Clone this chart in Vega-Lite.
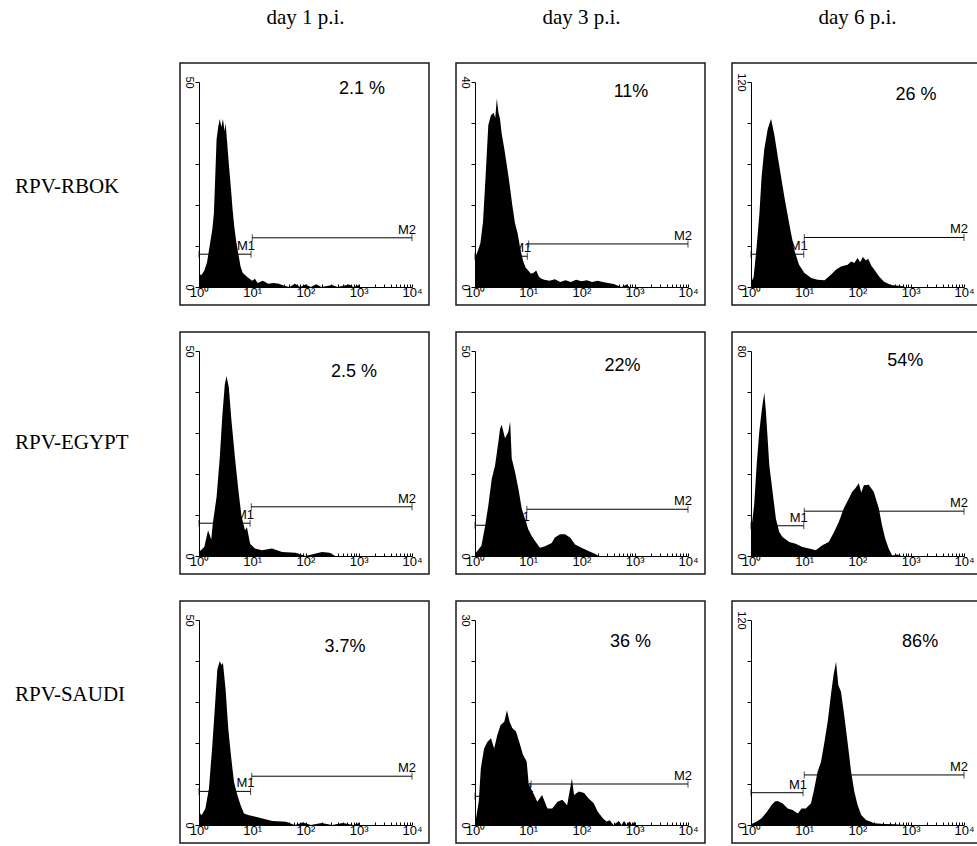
{
"$schema": "https://vega.github.io/schema/vega-lite/v6.json",
"padding": 0,
"background": "white",
"columns": 5,
"spacing": {"row": 27, "column": 25},
"align": "none",
"bounds": "flush",
"config": {
  "font": "Liberation Sans",
  "view": {"stroke": "#1a1a1a", "strokeWidth": 1.5},
  "axis": {"domainColor": "#000", "tickColor": "#000", "labelColor": "#000", "labelFont": "Liberation Sans", "grid": false, "domainWidth": 1, "tickWidth": 1}
},
"datasets": {
  "hist": [
    {"p":"A","x":1,"n":3},{"p":"A","x":1.122,"n":3},{"p":"A","x":1.259,"n":4},{"p":"A","x":1.413,"n":6},{"p":"A","x":1.585,"n":10},{"p":"A","x":1.778,"n":14},{"p":"A","x":1.905,"n":18},{"p":"A","x":1.995,"n":25},{"p":"A","x":2.138,"n":36},{"p":"A","x":2.291,"n":39},{"p":"A","x":2.455,"n":41},{"p":"A","x":2.63,"n":39},{"p":"A","x":2.818,"n":41},{"p":"A","x":3.02,"n":38},{"p":"A","x":3.162,"n":40},{"p":"A","x":3.388,"n":35},{"p":"A","x":3.631,"n":30},{"p":"A","x":3.981,"n":24},{"p":"A","x":4.266,"n":19},{"p":"A","x":4.571,"n":15},{"p":"A","x":5.012,"n":11},{"p":"A","x":5.495,"n":8},{"p":"A","x":6.026,"n":5},{"p":"A","x":6.607,"n":3.5},{"p":"A","x":7.244,"n":3},{"p":"A","x":7.943,"n":2.5},{"p":"A","x":8.913,"n":2},{"p":"A","x":10,"n":1.5},{"p":"A","x":11.22,"n":2},{"p":"A","x":12.59,"n":1},{"p":"A","x":15.85,"n":1.5},{"p":"A","x":19.95,"n":0.8},{"p":"A","x":25.12,"n":1},{"p":"A","x":31.62,"n":0.8},{"p":"A","x":39.81,"n":0.3},{"p":"A","x":50.12,"n":0},{"p":"A","x":63.1,"n":0.8},{"p":"A","x":79.43,"n":0},{"p":"A","x":100,"n":0.6},{"p":"A","x":125.9,"n":0},{"p":"A","x":158.5,"n":0.7},{"p":"A","x":199.5,"n":0},{"p":"A","x":316.2,"n":0.5},{"p":"A","x":398.1,"n":0},{"p":"A","x":660.7,"n":0.6},{"p":"A","x":794.3,"n":0},{"p":"A","x":1000,"n":0.5},{"p":"A","x":1047,"n":0},
    {"p":"B","x":1,"n":5.6},{"p":"B","x":1.122,"n":7},{"p":"B","x":1.259,"n":8.5},{"p":"B","x":1.413,"n":12.7},{"p":"B","x":1.585,"n":21.8},{"p":"B","x":1.778,"n":31.6},{"p":"B","x":1.995,"n":33.5},{"p":"B","x":2.239,"n":34},{"p":"B","x":2.399,"n":33},{"p":"B","x":2.57,"n":36.8},{"p":"B","x":2.754,"n":34},{"p":"B","x":2.951,"n":32.8},{"p":"B","x":3.162,"n":30},{"p":"B","x":3.548,"n":27},{"p":"B","x":3.981,"n":23.6},{"p":"B","x":4.467,"n":20},{"p":"B","x":5.012,"n":16},{"p":"B","x":5.623,"n":12.5},{"p":"B","x":6.31,"n":10.5},{"p":"B","x":7.079,"n":7.5},{"p":"B","x":7.943,"n":5.2},{"p":"B","x":8.913,"n":3.8},{"p":"B","x":10,"n":3.2},{"p":"B","x":11.22,"n":2.6},{"p":"B","x":12.59,"n":2.8},{"p":"B","x":14.13,"n":3.2},{"p":"B","x":15.85,"n":2},{"p":"B","x":17.78,"n":1.6},{"p":"B","x":19.95,"n":1.4},{"p":"B","x":25.12,"n":1.2},{"p":"B","x":31.62,"n":1.5},{"p":"B","x":39.81,"n":1},{"p":"B","x":50.12,"n":1.3},{"p":"B","x":63.1,"n":1},{"p":"B","x":79.43,"n":1.4},{"p":"B","x":100,"n":1.1},{"p":"B","x":125.9,"n":1.3},{"p":"B","x":158.5,"n":1},{"p":"B","x":199.5,"n":1.2},{"p":"B","x":251.2,"n":1},{"p":"B","x":316.2,"n":0.8},{"p":"B","x":398.1,"n":0.6},{"p":"B","x":501.2,"n":0.2},{"p":"B","x":562.3,"n":0},{"p":"B","x":707.9,"n":0.5},{"p":"B","x":794.3,"n":0},
    {"p":"C","x":1,"n":2.4},{"p":"C","x":1.122,"n":6},{"p":"C","x":1.259,"n":21.6},{"p":"C","x":1.432,"n":42},{"p":"C","x":1.585,"n":64.8},{"p":"C","x":1.778,"n":80.8},{"p":"C","x":2.056,"n":92.4},{"p":"C","x":2.239,"n":96},{"p":"C","x":2.377,"n":98.4},{"p":"C","x":2.512,"n":94.8},{"p":"C","x":2.754,"n":88.8},{"p":"C","x":3.162,"n":76.8},{"p":"C","x":3.656,"n":64.8},{"p":"C","x":4.227,"n":52.8},{"p":"C","x":4.887,"n":42},{"p":"C","x":5.623,"n":31.8},{"p":"C","x":6.516,"n":21.6},{"p":"C","x":7.943,"n":13.2},{"p":"C","x":10,"n":8.4},{"p":"C","x":13.49,"n":5.3},{"p":"C","x":17.78,"n":4.2},{"p":"C","x":23.99,"n":4},{"p":"C","x":31.62,"n":7.2},{"p":"C","x":39.81,"n":10.2},{"p":"C","x":48.98,"n":12},{"p":"C","x":65.31,"n":13},{"p":"C","x":75.86,"n":15},{"p":"C","x":87.1,"n":14},{"p":"C","x":100,"n":17},{"p":"C","x":112.2,"n":14.5},{"p":"C","x":125.9,"n":17.5},{"p":"C","x":144.5,"n":15.5},{"p":"C","x":158.5,"n":16.5},{"p":"C","x":182,"n":12.5},{"p":"C","x":208.9,"n":10},{"p":"C","x":257,"n":6},{"p":"C","x":316.2,"n":3.1},{"p":"C","x":426.6,"n":1.2},{"p":"C","x":660.7,"n":0.6},{"p":"C","x":794.3,"n":0},
    {"p":"D","x":1,"n":1},{"p":"D","x":1.259,"n":2.2},{"p":"D","x":1.479,"n":6.3},{"p":"D","x":1.698,"n":4},{"p":"D","x":1.82,"n":8},{"p":"D","x":2.138,"n":14.4},{"p":"D","x":2.455,"n":24},{"p":"D","x":2.754,"n":34.6},{"p":"D","x":3.055,"n":41.9},{"p":"D","x":3.289,"n":43.9},{"p":"D","x":3.631,"n":41.1},{"p":"D","x":4.074,"n":33},{"p":"D","x":4.732,"n":24},{"p":"D","x":5.495,"n":16},{"p":"D","x":6.31,"n":9.5},{"p":"D","x":7.311,"n":6.3},{"p":"D","x":7.943,"n":7},{"p":"D","x":9.12,"n":3},{"p":"D","x":11.22,"n":1.8},{"p":"D","x":15.14,"n":1.4},{"p":"D","x":23.44,"n":1.8},{"p":"D","x":36.31,"n":1},{"p":"D","x":64.57,"n":0.8},{"p":"D","x":100,"n":0},{"p":"D","x":204.2,"n":1},{"p":"D","x":281.8,"n":0.8},{"p":"D","x":363.1,"n":0},
    {"p":"E","x":1,"n":0.5},{"p":"E","x":1.318,"n":2.5},{"p":"E","x":1.549,"n":7.3},{"p":"E","x":1.778,"n":12.3},{"p":"E","x":2.061,"n":18.8},{"p":"E","x":2.377,"n":22},{"p":"E","x":2.754,"n":27.9},{"p":"E","x":2.951,"n":31},{"p":"E","x":3.162,"n":32},{"p":"E","x":3.664,"n":28.7},{"p":"E","x":4.236,"n":30.3},{"p":"E","x":4.571,"n":32.8},{"p":"E","x":4.898,"n":23.8},{"p":"E","x":5.649,"n":20.5},{"p":"E","x":6.531,"n":16.4},{"p":"E","x":7.551,"n":11.5},{"p":"E","x":8.71,"n":9},{"p":"E","x":10,"n":6.5},{"p":"E","x":11.61,"n":4.9},{"p":"E","x":13.49,"n":3.6},{"p":"E","x":16.6,"n":2},{"p":"E","x":20.7,"n":2.4},{"p":"E","x":27.54,"n":3.2},{"p":"E","x":31.62,"n":4.5},{"p":"E","x":39.81,"n":5.3},{"p":"E","x":48.98,"n":5.3},{"p":"E","x":60.95,"n":4.5},{"p":"E","x":75.86,"n":2.8},{"p":"E","x":100,"n":2},{"p":"E","x":134.9,"n":1.2},{"p":"E","x":182,"n":0.5},{"p":"E","x":208.9,"n":0},
    {"p":"F","x":1,"n":9.6},{"p":"F","x":1.148,"n":20},{"p":"F","x":1.276,"n":35.5},{"p":"F","x":1.432,"n":48.6},{"p":"F","x":1.607,"n":57.6},{"p":"F","x":1.778,"n":63.7},{"p":"F","x":1.905,"n":56.5},{"p":"F","x":2.051,"n":46},{"p":"F","x":2.203,"n":35.5},{"p":"F","x":2.541,"n":25.1},{"p":"F","x":2.931,"n":14.6},{"p":"F","x":3.388,"n":9.4},{"p":"F","x":3.908,"n":7.4},{"p":"F","x":5.212,"n":5.5},{"p":"F","x":6.918,"n":4.8},{"p":"F","x":9.247,"n":3.5},{"p":"F","x":12.3,"n":2.9},{"p":"F","x":16.41,"n":2.2},{"p":"F","x":21.88,"n":4.2},{"p":"F","x":28.84,"n":5.5},{"p":"F","x":36.31,"n":9.4},{"p":"F","x":44.67,"n":13.4},{"p":"F","x":55.46,"n":18.6},{"p":"F","x":69.18,"n":22.5},{"p":"F","x":79.43,"n":25.1},{"p":"F","x":91.2,"n":26.4},{"p":"F","x":105.9,"n":28.4},{"p":"F","x":117.5,"n":24.8},{"p":"F","x":131.8,"n":27.6},{"p":"F","x":162.2,"n":27.8},{"p":"F","x":201.8,"n":25.1},{"p":"F","x":251.2,"n":18.6},{"p":"F","x":288.4,"n":12},{"p":"F","x":331.1,"n":6.8},{"p":"F","x":384.6,"n":2.9},{"p":"F","x":446.7,"n":0.2},{"p":"F","x":562.3,"n":0.6},{"p":"F","x":676.1,"n":0},
    {"p":"G","x":1,"n":3.2},{"p":"G","x":1.122,"n":2.4},{"p":"G","x":1.318,"n":4},{"p":"G","x":1.538,"n":8.9},{"p":"G","x":1.778,"n":19.4},{"p":"G","x":1.995,"n":29},{"p":"G","x":2.208,"n":37.9},{"p":"G","x":2.455,"n":40},{"p":"G","x":2.63,"n":39},{"p":"G","x":2.818,"n":39.5},{"p":"G","x":3.162,"n":33},{"p":"G","x":3.548,"n":23.4},{"p":"G","x":3.981,"n":17},{"p":"G","x":4.539,"n":10.5},{"p":"G","x":5.248,"n":7.3},{"p":"G","x":6.026,"n":4.9},{"p":"G","x":6.998,"n":2.8},{"p":"G","x":8.71,"n":2.4},{"p":"G","x":11.61,"n":2},{"p":"G","x":15.49,"n":1.6},{"p":"G","x":23.99,"n":1},{"p":"G","x":42.66,"n":0.8},{"p":"G","x":63.1,"n":0},{"p":"G","x":89.13,"n":0.6},{"p":"G","x":125.9,"n":0},{"p":"G","x":199.5,"n":0.5},{"p":"G","x":316.2,"n":0},{"p":"G","x":501.2,"n":0.5},{"p":"G","x":794.3,"n":0},{"p":"G","x":1000,"n":0.5},{"p":"G","x":1047,"n":0},
    {"p":"H","x":1,"n":2},{"p":"H","x":1.047,"n":1},{"p":"H","x":1.175,"n":3.4},{"p":"H","x":1.288,"n":8.3},{"p":"H","x":1.479,"n":11.2},{"p":"H","x":1.718,"n":12.2},{"p":"H","x":1.995,"n":12.7},{"p":"H","x":2.291,"n":11.2},{"p":"H","x":2.63,"n":13.2},{"p":"H","x":3.02,"n":14.6},{"p":"H","x":3.548,"n":15.1},{"p":"H","x":3.981,"n":16.8},{"p":"H","x":4.467,"n":15.1},{"p":"H","x":5.012,"n":14.2},{"p":"H","x":5.888,"n":13.7},{"p":"H","x":6.761,"n":12.2},{"p":"H","x":7.943,"n":10.3},{"p":"H","x":9.333,"n":9.3},{"p":"H","x":10.23,"n":5.9},{"p":"H","x":12.02,"n":4.9},{"p":"H","x":14.79,"n":3.4},{"p":"H","x":18.2,"n":4.4},{"p":"H","x":22.91,"n":2.4},{"p":"H","x":28.18,"n":2.4},{"p":"H","x":35.48,"n":3.4},{"p":"H","x":43.65,"n":3.7},{"p":"H","x":53.7,"n":2.9},{"p":"H","x":66.07,"n":6.8},{"p":"H","x":72.44,"n":4.4},{"p":"H","x":89.13,"n":4.9},{"p":"H","x":112.2,"n":4.7},{"p":"H","x":134.9,"n":3.9},{"p":"H","x":169.8,"n":3.2},{"p":"H","x":199.5,"n":2},{"p":"H","x":251.2,"n":1},{"p":"H","x":295.1,"n":0.5},{"p":"H","x":338.8,"n":0.7},{"p":"H","x":398.1,"n":0},{"p":"H","x":501.2,"n":0.6},{"p":"H","x":562.3,"n":0},{"p":"H","x":631,"n":0.6},{"p":"H","x":707.9,"n":0},{"p":"H","x":794.3,"n":0.5},{"p":"H","x":891.3,"n":0},{"p":"H","x":1000,"n":0.5},{"p":"H","x":1047,"n":0},
    {"p":"I","x":1,"n":0.4},{"p":"I","x":1.259,"n":1.9},{"p":"I","x":1.585,"n":4},{"p":"I","x":1.995,"n":7.8},{"p":"I","x":2.455,"n":11.8},{"p":"I","x":2.818,"n":13.8},{"p":"I","x":3.162,"n":14},{"p":"I","x":3.89,"n":12.7},{"p":"I","x":4.898,"n":9.7},{"p":"I","x":6.026,"n":8.8},{"p":"I","x":7.586,"n":6.8},{"p":"I","x":8.913,"n":9.7},{"p":"I","x":10.72,"n":9.7},{"p":"I","x":13.4,"n":12.7},{"p":"I","x":15.49,"n":21.5},{"p":"I","x":17.78,"n":31.2},{"p":"I","x":20.65,"n":37},{"p":"I","x":23.99,"n":48.8},{"p":"I","x":27.54,"n":60.5},{"p":"I","x":31.62,"n":76},{"p":"I","x":35.48,"n":87.8},{"p":"I","x":39.54,"n":95.6},{"p":"I","x":43.65,"n":82},{"p":"I","x":48.98,"n":78},{"p":"I","x":56.23,"n":64.4},{"p":"I","x":66.07,"n":46.8},{"p":"I","x":75.86,"n":31.2},{"p":"I","x":87.1,"n":19.6},{"p":"I","x":100,"n":11.8},{"p":"I","x":117.5,"n":5.9},{"p":"I","x":144.5,"n":2.9},{"p":"I","x":208.9,"n":1},{"p":"I","x":316.2,"n":0.6},{"p":"I","x":501.2,"n":0.4},{"p":"I","x":794.3,"n":0}
  ],
  "gates": [
    {"p":"A","g":"M1","lo":1,"hi":9.5,"y":8},{"p":"A","g":"M2","lo":10,"hi":10000,"y":12},
    {"p":"B","g":"M1","lo":1,"hi":9.6,"y":6},{"p":"B","g":"M2","lo":10.2,"hi":10000,"y":8.4},
    {"p":"C","g":"M1","lo":1,"hi":9.8,"y":19.2},{"p":"C","g":"M2","lo":10,"hi":10000,"y":29},
    {"p":"D","g":"M1","lo":1,"hi":9.1,"y":8},{"p":"D","g":"M2","lo":9.6,"hi":10000,"y":12},
    {"p":"E","g":"M1","lo":1,"hi":9,"y":7.5},{"p":"E","g":"M2","lo":9.4,"hi":10000,"y":11.4},
    {"p":"F","g":"M1","lo":1,"hi":9.8,"y":11.8},{"p":"F","g":"M2","lo":10,"hi":10000,"y":17.5},
    {"p":"G","g":"M1","lo":1,"hi":9.3,"y":8.2},{"p":"G","g":"M2","lo":9.8,"hi":10000,"y":11.9},
    {"p":"H","g":"M1","lo":1,"hi":10.5,"y":4.2},{"p":"H","g":"M2","lo":11.3,"hi":10000,"y":6},
    {"p":"I","g":"M1","lo":1,"hi":9.5,"y":18.9},{"p":"I","g":"M2","lo":10,"hi":10000,"y":29.3}
  ],
  "pct": [
    {"p":"A","t":"2.1 %","x":1150,"y":48.3},
    {"p":"B","t":"11%","x":850,"y":38},
    {"p":"C","t":"26 %","x":1260,"y":112.3},
    {"p":"D","t":"2.5 %","x":815,"y":45},
    {"p":"E","t":"22%","x":590,"y":46.3},
    {"p":"F","t":"54%","x":790,"y":76},
    {"p":"G","t":"3.7%","x":550,"y":43.5},
    {"p":"H","t":"36 %","x":830,"y":26.8},
    {"p":"I","t":"86%","x":1500,"y":107.3}
  ]
},
"concat": [
  {"width": 30, "height": 36, "view": {"stroke": null}, "data": {"values": [{"t": ""}]}, "mark": "text", "encoding": {"text": {"field": "t"}}},
  {"width": 70, "height": 36, "view": {"stroke": null}, "data": {"values": [{"t": ""}]}, "mark": "text", "encoding": {"text": {"field": "t"}}},
  {"width": 251, "height": 36, "view": {"stroke": null}, "data": {"values": [{"t": "day 1 p.i."}]}, "mark": {"type": "text", "font": "Liberation Serif", "fontSize": 21, "color": "#000"}, "encoding": {"text": {"field": "t"}}},
  {"width": 251, "height": 36, "view": {"stroke": null}, "data": {"values": [{"t": "day 3 p.i."}]}, "mark": {"type": "text", "font": "Liberation Serif", "fontSize": 21, "color": "#000"}, "encoding": {"text": {"field": "t"}}},
  {"width": 251, "height": 36, "view": {"stroke": null}, "data": {"values": [{"t": "day 6 p.i."}]}, "mark": {"type": "text", "font": "Liberation Serif", "fontSize": 21, "color": "#000"}, "encoding": {"text": {"field": "t"}}},

  {"width": 30, "height": 242, "view": {"stroke": null}, "data": {"values": [{"t": "RPV-RBOK"}]}, "mark": {"type": "text", "font": "Liberation Serif", "fontSize": 21, "align": "left", "dy": 3, "color": "#000"}, "encoding": {"text": {"field": "t"}}},
  {"width": 99, "height": 242, "view": {"stroke": null}, "data": {"values": [{"t": ""}]}, "mark": "text", "encoding": {"text": {"field": "t"}}},
  {"width": 249, "height": 242, "layer": [
    {"data": {"name": "hist"}, "transform": [{"filter": "datum.p == 'A'"}], "mark": {"type": "area", "color": "#000", "interpolate": "linear"},
     "encoding": {
       "x": {"field": "x", "type": "quantitative", "scale": {"type": "log", "domain": [1, 10000], "range": [19, 232]}, "axis": {"title": null, "orient": "bottom", "offset": -18, "values": [1,2,3,4,5,6,7,8,9,10,20,30,40,50,60,70,80,90,100,200,300,400,500,600,700,800,900,1000,2000,3000,4000,5000,6000,7000,8000,9000,10000], "labelExpr": "datum.value == 1 ? '10⁰' : datum.value == 10 ? '10¹' : datum.value == 100 ? '10²' : datum.value == 1000 ? '10³' : datum.value == 10000 ? '10⁴' : ''", "tickSize": -3, "labelPadding": 2, "labelFontSize": 13, "labelFlush": false, "labelOverlap": false, "labelBound": false}},
       "y": {"field": "n", "type": "quantitative", "stack": null, "scale": {"domain": [0, 50], "range": [224, 19], "nice": false}, "axis": {"title": null, "orient": "left", "offset": -19, "values": [0,5,10,15,20,25,30,35,40,45,50], "labelExpr": "datum.value == 0 || datum.value == 50 ? datum.label : ''", "labelAngle": 90, "tickSize": 4, "labelPadding": 1, "labelFontSize": 11, "labelOverlap": false, "labelFlush": false}}
     }},
    {"data": {"name": "gates"}, "transform": [{"filter": "datum.p == 'A'"}], "layer": [
      {"mark": {"type": "rule", "color": "#000", "strokeWidth": 1}, "encoding": {"x": {"field": "lo", "type": "quantitative", "title": null}, "x2": {"field": "hi"}, "y": {"field": "y", "type": "quantitative", "title": null}}},
      {"mark": {"type": "tick", "orient": "vertical", "size": 7, "thickness": 1, "color": "#000"}, "encoding": {"x": {"field": "lo", "type": "quantitative", "title": null}, "y": {"field": "y", "type": "quantitative", "title": null}}},
      {"mark": {"type": "tick", "orient": "vertical", "size": 7, "thickness": 1, "color": "#000"}, "encoding": {"x": {"field": "hi", "type": "quantitative", "title": null}, "y": {"field": "y", "type": "quantitative", "title": null}}},
      {"mark": {"type": "text", "align": "right", "baseline": "bottom", "dx": 4, "dy": -1, "fontSize": 13, "color": "#000"}, "encoding": {"x": {"field": "hi", "type": "quantitative", "title": null}, "y": {"field": "y", "type": "quantitative", "title": null}, "text": {"field": "g"}}}
    ]},
    {"data": {"name": "pct"}, "transform": [{"filter": "datum.p == 'A'"}], "mark": {"type": "text", "fontSize": 18, "color": "#000"}, "encoding": {"x": {"field": "x", "type": "quantitative", "title": null}, "y": {"field": "y", "type": "quantitative", "title": null}, "text": {"field": "t"}}}
  ]},
  {"width": 249, "height": 242, "layer": [
    {"data": {"name": "hist"}, "transform": [{"filter": "datum.p == 'B'"}], "mark": {"type": "area", "color": "#000", "interpolate": "linear"},
     "encoding": {
       "x": {"field": "x", "type": "quantitative", "scale": {"type": "log", "domain": [1, 10000], "range": [19, 232]}, "axis": {"title": null, "orient": "bottom", "offset": -18, "values": [1,2,3,4,5,6,7,8,9,10,20,30,40,50,60,70,80,90,100,200,300,400,500,600,700,800,900,1000,2000,3000,4000,5000,6000,7000,8000,9000,10000], "labelExpr": "datum.value == 1 ? '10⁰' : datum.value == 10 ? '10¹' : datum.value == 100 ? '10²' : datum.value == 1000 ? '10³' : datum.value == 10000 ? '10⁴' : ''", "tickSize": -3, "labelPadding": 2, "labelFontSize": 13, "labelFlush": false, "labelOverlap": false, "labelBound": false}},
       "y": {"field": "n", "type": "quantitative", "stack": null, "scale": {"domain": [0, 40], "range": [224, 19], "nice": false}, "axis": {"title": null, "orient": "left", "offset": -19, "values": [0,4,8,12,16,20,24,28,32,36,40], "labelExpr": "datum.value == 0 || datum.value == 40 ? datum.label : ''", "labelAngle": 90, "tickSize": 4, "labelPadding": 1, "labelFontSize": 11, "labelOverlap": false, "labelFlush": false}}
     }},
    {"data": {"name": "gates"}, "transform": [{"filter": "datum.p == 'B'"}], "layer": [
      {"mark": {"type": "rule", "color": "#000", "strokeWidth": 1}, "encoding": {"x": {"field": "lo", "type": "quantitative", "title": null}, "x2": {"field": "hi"}, "y": {"field": "y", "type": "quantitative", "title": null}}},
      {"mark": {"type": "tick", "orient": "vertical", "size": 7, "thickness": 1, "color": "#000"}, "encoding": {"x": {"field": "lo", "type": "quantitative", "title": null}, "y": {"field": "y", "type": "quantitative", "title": null}}},
      {"mark": {"type": "tick", "orient": "vertical", "size": 7, "thickness": 1, "color": "#000"}, "encoding": {"x": {"field": "hi", "type": "quantitative", "title": null}, "y": {"field": "y", "type": "quantitative", "title": null}}},
      {"mark": {"type": "text", "align": "right", "baseline": "bottom", "dx": 4, "dy": -1, "fontSize": 13, "color": "#000"}, "encoding": {"x": {"field": "hi", "type": "quantitative", "title": null}, "y": {"field": "y", "type": "quantitative", "title": null}, "text": {"field": "g"}}}
    ]},
    {"data": {"name": "pct"}, "transform": [{"filter": "datum.p == 'B'"}], "mark": {"type": "text", "fontSize": 18, "color": "#000"}, "encoding": {"x": {"field": "x", "type": "quantitative", "title": null}, "y": {"field": "y", "type": "quantitative", "title": null}, "text": {"field": "t"}}}
  ]},
  {"width": 249, "height": 242, "layer": [
    {"data": {"name": "hist"}, "transform": [{"filter": "datum.p == 'C'"}], "mark": {"type": "area", "color": "#000", "interpolate": "linear"},
     "encoding": {
       "x": {"field": "x", "type": "quantitative", "scale": {"type": "log", "domain": [1, 10000], "range": [19, 232]}, "axis": {"title": null, "orient": "bottom", "offset": -18, "values": [1,2,3,4,5,6,7,8,9,10,20,30,40,50,60,70,80,90,100,200,300,400,500,600,700,800,900,1000,2000,3000,4000,5000,6000,7000,8000,9000,10000], "labelExpr": "datum.value == 1 ? '10⁰' : datum.value == 10 ? '10¹' : datum.value == 100 ? '10²' : datum.value == 1000 ? '10³' : datum.value == 10000 ? '10⁴' : ''", "tickSize": -3, "labelPadding": 2, "labelFontSize": 13, "labelFlush": false, "labelOverlap": false, "labelBound": false}},
       "y": {"field": "n", "type": "quantitative", "stack": null, "scale": {"domain": [0, 120], "range": [224, 19], "nice": false}, "axis": {"title": null, "orient": "left", "offset": -19, "values": [0,24,48,72,96,120], "labelExpr": "datum.value == 0 || datum.value == 120 ? datum.label : ''", "labelAngle": 90, "tickSize": 4, "labelPadding": 1, "labelFontSize": 11, "labelOverlap": false, "labelFlush": false}}
     }},
    {"data": {"name": "gates"}, "transform": [{"filter": "datum.p == 'C'"}], "layer": [
      {"mark": {"type": "rule", "color": "#000", "strokeWidth": 1}, "encoding": {"x": {"field": "lo", "type": "quantitative", "title": null}, "x2": {"field": "hi"}, "y": {"field": "y", "type": "quantitative", "title": null}}},
      {"mark": {"type": "tick", "orient": "vertical", "size": 7, "thickness": 1, "color": "#000"}, "encoding": {"x": {"field": "lo", "type": "quantitative", "title": null}, "y": {"field": "y", "type": "quantitative", "title": null}}},
      {"mark": {"type": "tick", "orient": "vertical", "size": 7, "thickness": 1, "color": "#000"}, "encoding": {"x": {"field": "hi", "type": "quantitative", "title": null}, "y": {"field": "y", "type": "quantitative", "title": null}}},
      {"mark": {"type": "text", "align": "right", "baseline": "bottom", "dx": 4, "dy": -1, "fontSize": 13, "color": "#000"}, "encoding": {"x": {"field": "hi", "type": "quantitative", "title": null}, "y": {"field": "y", "type": "quantitative", "title": null}, "text": {"field": "g"}}}
    ]},
    {"data": {"name": "pct"}, "transform": [{"filter": "datum.p == 'C'"}], "mark": {"type": "text", "fontSize": 18, "color": "#000"}, "encoding": {"x": {"field": "x", "type": "quantitative", "title": null}, "y": {"field": "y", "type": "quantitative", "title": null}, "text": {"field": "t"}}}
  ]},

  {"width": 30, "height": 222, "view": {"stroke": null}, "data": {"values": [{"t": "RPV-EGYPT"}]}, "mark": {"type": "text", "font": "Liberation Serif", "fontSize": 21, "align": "left", "color": "#000"}, "encoding": {"text": {"field": "t"}}},
  {"width": 100, "height": 222, "view": {"stroke": null}, "data": {"values": [{"t": ""}]}, "mark": "text", "encoding": {"text": {"field": "t"}}},
  {"width": 249, "height": 242, "layer": [
    {"data": {"name": "hist"}, "transform": [{"filter": "datum.p == 'D'"}], "mark": {"type": "area", "color": "#000", "interpolate": "linear"},
     "encoding": {
       "x": {"field": "x", "type": "quantitative", "scale": {"type": "log", "domain": [1, 10000], "range": [19, 232]}, "axis": {"title": null, "orient": "bottom", "offset": -18, "values": [1,2,3,4,5,6,7,8,9,10,20,30,40,50,60,70,80,90,100,200,300,400,500,600,700,800,900,1000,2000,3000,4000,5000,6000,7000,8000,9000,10000], "labelExpr": "datum.value == 1 ? '10⁰' : datum.value == 10 ? '10¹' : datum.value == 100 ? '10²' : datum.value == 1000 ? '10³' : datum.value == 10000 ? '10⁴' : ''", "tickSize": -3, "labelPadding": 2, "labelFontSize": 13, "labelFlush": false, "labelOverlap": false, "labelBound": false}},
       "y": {"field": "n", "type": "quantitative", "stack": null, "scale": {"domain": [0, 50], "range": [224, 19], "nice": false}, "axis": {"title": null, "orient": "left", "offset": -19, "values": [0,5,10,15,20,25,30,35,40,45,50], "labelExpr": "datum.value == 0 || datum.value == 50 ? datum.label : ''", "labelAngle": 90, "tickSize": 4, "labelPadding": 1, "labelFontSize": 11, "labelOverlap": false, "labelFlush": false}}
     }},
    {"data": {"name": "gates"}, "transform": [{"filter": "datum.p == 'D'"}], "layer": [
      {"mark": {"type": "rule", "color": "#000", "strokeWidth": 1}, "encoding": {"x": {"field": "lo", "type": "quantitative", "title": null}, "x2": {"field": "hi"}, "y": {"field": "y", "type": "quantitative", "title": null}}},
      {"mark": {"type": "tick", "orient": "vertical", "size": 7, "thickness": 1, "color": "#000"}, "encoding": {"x": {"field": "lo", "type": "quantitative", "title": null}, "y": {"field": "y", "type": "quantitative", "title": null}}},
      {"mark": {"type": "tick", "orient": "vertical", "size": 7, "thickness": 1, "color": "#000"}, "encoding": {"x": {"field": "hi", "type": "quantitative", "title": null}, "y": {"field": "y", "type": "quantitative", "title": null}}},
      {"mark": {"type": "text", "align": "right", "baseline": "bottom", "dx": 4, "dy": -1, "fontSize": 13, "color": "#000"}, "encoding": {"x": {"field": "hi", "type": "quantitative", "title": null}, "y": {"field": "y", "type": "quantitative", "title": null}, "text": {"field": "g"}}}
    ]},
    {"data": {"name": "pct"}, "transform": [{"filter": "datum.p == 'D'"}], "mark": {"type": "text", "fontSize": 18, "color": "#000"}, "encoding": {"x": {"field": "x", "type": "quantitative", "title": null}, "y": {"field": "y", "type": "quantitative", "title": null}, "text": {"field": "t"}}}
  ]},
  {"width": 249, "height": 242, "layer": [
    {"data": {"name": "hist"}, "transform": [{"filter": "datum.p == 'E'"}], "mark": {"type": "area", "color": "#000", "interpolate": "linear"},
     "encoding": {
       "x": {"field": "x", "type": "quantitative", "scale": {"type": "log", "domain": [1, 10000], "range": [19, 232]}, "axis": {"title": null, "orient": "bottom", "offset": -18, "values": [1,2,3,4,5,6,7,8,9,10,20,30,40,50,60,70,80,90,100,200,300,400,500,600,700,800,900,1000,2000,3000,4000,5000,6000,7000,8000,9000,10000], "labelExpr": "datum.value == 1 ? '10⁰' : datum.value == 10 ? '10¹' : datum.value == 100 ? '10²' : datum.value == 1000 ? '10³' : datum.value == 10000 ? '10⁴' : ''", "tickSize": -3, "labelPadding": 2, "labelFontSize": 13, "labelFlush": false, "labelOverlap": false, "labelBound": false}},
       "y": {"field": "n", "type": "quantitative", "stack": null, "scale": {"domain": [0, 50], "range": [224, 19], "nice": false}, "axis": {"title": null, "orient": "left", "offset": -19, "values": [0,5,10,15,20,25,30,35,40,45,50], "labelExpr": "datum.value == 0 || datum.value == 50 ? datum.label : ''", "labelAngle": 90, "tickSize": 4, "labelPadding": 1, "labelFontSize": 11, "labelOverlap": false, "labelFlush": false}}
     }},
    {"data": {"name": "gates"}, "transform": [{"filter": "datum.p == 'E'"}], "layer": [
      {"mark": {"type": "rule", "color": "#000", "strokeWidth": 1}, "encoding": {"x": {"field": "lo", "type": "quantitative", "title": null}, "x2": {"field": "hi"}, "y": {"field": "y", "type": "quantitative", "title": null}}},
      {"mark": {"type": "tick", "orient": "vertical", "size": 7, "thickness": 1, "color": "#000"}, "encoding": {"x": {"field": "lo", "type": "quantitative", "title": null}, "y": {"field": "y", "type": "quantitative", "title": null}}},
      {"mark": {"type": "tick", "orient": "vertical", "size": 7, "thickness": 1, "color": "#000"}, "encoding": {"x": {"field": "hi", "type": "quantitative", "title": null}, "y": {"field": "y", "type": "quantitative", "title": null}}},
      {"mark": {"type": "text", "align": "right", "baseline": "bottom", "dx": 4, "dy": -1, "fontSize": 13, "color": "#000"}, "encoding": {"x": {"field": "hi", "type": "quantitative", "title": null}, "y": {"field": "y", "type": "quantitative", "title": null}, "text": {"field": "g"}}}
    ]},
    {"data": {"name": "pct"}, "transform": [{"filter": "datum.p == 'E'"}], "mark": {"type": "text", "fontSize": 18, "color": "#000"}, "encoding": {"x": {"field": "x", "type": "quantitative", "title": null}, "y": {"field": "y", "type": "quantitative", "title": null}, "text": {"field": "t"}}}
  ]},
  {"width": 249, "height": 242, "layer": [
    {"data": {"name": "hist"}, "transform": [{"filter": "datum.p == 'F'"}], "mark": {"type": "area", "color": "#000", "interpolate": "linear"},
     "encoding": {
       "x": {"field": "x", "type": "quantitative", "scale": {"type": "log", "domain": [1, 10000], "range": [19, 232]}, "axis": {"title": null, "orient": "bottom", "offset": -18, "values": [1,2,3,4,5,6,7,8,9,10,20,30,40,50,60,70,80,90,100,200,300,400,500,600,700,800,900,1000,2000,3000,4000,5000,6000,7000,8000,9000,10000], "labelExpr": "datum.value == 1 ? '10⁰' : datum.value == 10 ? '10¹' : datum.value == 100 ? '10²' : datum.value == 1000 ? '10³' : datum.value == 10000 ? '10⁴' : ''", "tickSize": -3, "labelPadding": 2, "labelFontSize": 13, "labelFlush": false, "labelOverlap": false, "labelBound": false}},
       "y": {"field": "n", "type": "quantitative", "stack": null, "scale": {"domain": [0, 80], "range": [224, 19], "nice": false}, "axis": {"title": null, "orient": "left", "offset": -19, "values": [0,8,16,24,32,40,48,56,64,72,80], "labelExpr": "datum.value == 0 || datum.value == 80 ? datum.label : ''", "labelAngle": 90, "tickSize": 4, "labelPadding": 1, "labelFontSize": 11, "labelOverlap": false, "labelFlush": false}}
     }},
    {"data": {"name": "gates"}, "transform": [{"filter": "datum.p == 'F'"}], "layer": [
      {"mark": {"type": "rule", "color": "#000", "strokeWidth": 1}, "encoding": {"x": {"field": "lo", "type": "quantitative", "title": null}, "x2": {"field": "hi"}, "y": {"field": "y", "type": "quantitative", "title": null}}},
      {"mark": {"type": "tick", "orient": "vertical", "size": 7, "thickness": 1, "color": "#000"}, "encoding": {"x": {"field": "lo", "type": "quantitative", "title": null}, "y": {"field": "y", "type": "quantitative", "title": null}}},
      {"mark": {"type": "tick", "orient": "vertical", "size": 7, "thickness": 1, "color": "#000"}, "encoding": {"x": {"field": "hi", "type": "quantitative", "title": null}, "y": {"field": "y", "type": "quantitative", "title": null}}},
      {"mark": {"type": "text", "align": "right", "baseline": "bottom", "dx": 4, "dy": -1, "fontSize": 13, "color": "#000"}, "encoding": {"x": {"field": "hi", "type": "quantitative", "title": null}, "y": {"field": "y", "type": "quantitative", "title": null}, "text": {"field": "g"}}}
    ]},
    {"data": {"name": "pct"}, "transform": [{"filter": "datum.p == 'F'"}], "mark": {"type": "text", "fontSize": 18, "color": "#000"}, "encoding": {"x": {"field": "x", "type": "quantitative", "title": null}, "y": {"field": "y", "type": "quantitative", "title": null}, "text": {"field": "t"}}}
  ]},

  {"width": 30, "height": 188, "view": {"stroke": null}, "data": {"values": [{"t": "RPV-SAUDI"}]}, "mark": {"type": "text", "font": "Liberation Serif", "fontSize": 21, "align": "left", "color": "#000"}, "encoding": {"text": {"field": "t"}}},
  {"width": 100, "height": 188, "view": {"stroke": null}, "data": {"values": [{"t": ""}]}, "mark": "text", "encoding": {"text": {"field": "t"}}},
  {"width": 249, "height": 242, "layer": [
    {"data": {"name": "hist"}, "transform": [{"filter": "datum.p == 'G'"}], "mark": {"type": "area", "color": "#000", "interpolate": "linear"},
     "encoding": {
       "x": {"field": "x", "type": "quantitative", "scale": {"type": "log", "domain": [1, 10000], "range": [19, 232]}, "axis": {"title": null, "orient": "bottom", "offset": -18, "values": [1,2,3,4,5,6,7,8,9,10,20,30,40,50,60,70,80,90,100,200,300,400,500,600,700,800,900,1000,2000,3000,4000,5000,6000,7000,8000,9000,10000], "labelExpr": "datum.value == 1 ? '10⁰' : datum.value == 10 ? '10¹' : datum.value == 100 ? '10²' : datum.value == 1000 ? '10³' : datum.value == 10000 ? '10⁴' : ''", "tickSize": -3, "labelPadding": 2, "labelFontSize": 13, "labelFlush": false, "labelOverlap": false, "labelBound": false}},
       "y": {"field": "n", "type": "quantitative", "stack": null, "scale": {"domain": [0, 50], "range": [224, 19], "nice": false}, "axis": {"title": null, "orient": "left", "offset": -19, "values": [0,5,10,15,20,25,30,35,40,45,50], "labelExpr": "datum.value == 0 || datum.value == 50 ? datum.label : ''", "labelAngle": 90, "tickSize": 4, "labelPadding": 1, "labelFontSize": 11, "labelOverlap": false, "labelFlush": false}}
     }},
    {"data": {"name": "gates"}, "transform": [{"filter": "datum.p == 'G'"}], "layer": [
      {"mark": {"type": "rule", "color": "#000", "strokeWidth": 1}, "encoding": {"x": {"field": "lo", "type": "quantitative", "title": null}, "x2": {"field": "hi"}, "y": {"field": "y", "type": "quantitative", "title": null}}},
      {"mark": {"type": "tick", "orient": "vertical", "size": 7, "thickness": 1, "color": "#000"}, "encoding": {"x": {"field": "lo", "type": "quantitative", "title": null}, "y": {"field": "y", "type": "quantitative", "title": null}}},
      {"mark": {"type": "tick", "orient": "vertical", "size": 7, "thickness": 1, "color": "#000"}, "encoding": {"x": {"field": "hi", "type": "quantitative", "title": null}, "y": {"field": "y", "type": "quantitative", "title": null}}},
      {"mark": {"type": "text", "align": "right", "baseline": "bottom", "dx": 4, "dy": -1, "fontSize": 13, "color": "#000"}, "encoding": {"x": {"field": "hi", "type": "quantitative", "title": null}, "y": {"field": "y", "type": "quantitative", "title": null}, "text": {"field": "g"}}}
    ]},
    {"data": {"name": "pct"}, "transform": [{"filter": "datum.p == 'G'"}], "mark": {"type": "text", "fontSize": 18, "color": "#000"}, "encoding": {"x": {"field": "x", "type": "quantitative", "title": null}, "y": {"field": "y", "type": "quantitative", "title": null}, "text": {"field": "t"}}}
  ]},
  {"width": 249, "height": 242, "layer": [
    {"data": {"name": "hist"}, "transform": [{"filter": "datum.p == 'H'"}], "mark": {"type": "area", "color": "#000", "interpolate": "linear"},
     "encoding": {
       "x": {"field": "x", "type": "quantitative", "scale": {"type": "log", "domain": [1, 10000], "range": [19, 232]}, "axis": {"title": null, "orient": "bottom", "offset": -18, "values": [1,2,3,4,5,6,7,8,9,10,20,30,40,50,60,70,80,90,100,200,300,400,500,600,700,800,900,1000,2000,3000,4000,5000,6000,7000,8000,9000,10000], "labelExpr": "datum.value == 1 ? '10⁰' : datum.value == 10 ? '10¹' : datum.value == 100 ? '10²' : datum.value == 1000 ? '10³' : datum.value == 10000 ? '10⁴' : ''", "tickSize": -3, "labelPadding": 2, "labelFontSize": 13, "labelFlush": false, "labelOverlap": false, "labelBound": false}},
       "y": {"field": "n", "type": "quantitative", "stack": null, "scale": {"domain": [0, 30], "range": [224, 19], "nice": false}, "axis": {"title": null, "orient": "left", "offset": -19, "values": [0,3,6,9,12,15,18,21,24,27,30], "labelExpr": "datum.value == 0 || datum.value == 30 ? datum.label : ''", "labelAngle": 90, "tickSize": 4, "labelPadding": 1, "labelFontSize": 11, "labelOverlap": false, "labelFlush": false}}
     }},
    {"data": {"name": "gates"}, "transform": [{"filter": "datum.p == 'H'"}], "layer": [
      {"mark": {"type": "rule", "color": "#000", "strokeWidth": 1}, "encoding": {"x": {"field": "lo", "type": "quantitative", "title": null}, "x2": {"field": "hi"}, "y": {"field": "y", "type": "quantitative", "title": null}}},
      {"mark": {"type": "tick", "orient": "vertical", "size": 7, "thickness": 1, "color": "#000"}, "encoding": {"x": {"field": "lo", "type": "quantitative", "title": null}, "y": {"field": "y", "type": "quantitative", "title": null}}},
      {"mark": {"type": "tick", "orient": "vertical", "size": 7, "thickness": 1, "color": "#000"}, "encoding": {"x": {"field": "hi", "type": "quantitative", "title": null}, "y": {"field": "y", "type": "quantitative", "title": null}}},
      {"mark": {"type": "text", "align": "right", "baseline": "bottom", "dx": 4, "dy": -1, "fontSize": 13, "color": "#000"}, "encoding": {"x": {"field": "hi", "type": "quantitative", "title": null}, "y": {"field": "y", "type": "quantitative", "title": null}, "text": {"field": "g"}}}
    ]},
    {"data": {"name": "pct"}, "transform": [{"filter": "datum.p == 'H'"}], "mark": {"type": "text", "fontSize": 18, "color": "#000"}, "encoding": {"x": {"field": "x", "type": "quantitative", "title": null}, "y": {"field": "y", "type": "quantitative", "title": null}, "text": {"field": "t"}}}
  ]},
  {"width": 249, "height": 242, "layer": [
    {"data": {"name": "hist"}, "transform": [{"filter": "datum.p == 'I'"}], "mark": {"type": "area", "color": "#000", "interpolate": "linear"},
     "encoding": {
       "x": {"field": "x", "type": "quantitative", "scale": {"type": "log", "domain": [1, 10000], "range": [19, 232]}, "axis": {"title": null, "orient": "bottom", "offset": -18, "values": [1,2,3,4,5,6,7,8,9,10,20,30,40,50,60,70,80,90,100,200,300,400,500,600,700,800,900,1000,2000,3000,4000,5000,6000,7000,8000,9000,10000], "labelExpr": "datum.value == 1 ? '10⁰' : datum.value == 10 ? '10¹' : datum.value == 100 ? '10²' : datum.value == 1000 ? '10³' : datum.value == 10000 ? '10⁴' : ''", "tickSize": -3, "labelPadding": 2, "labelFontSize": 13, "labelFlush": false, "labelOverlap": false, "labelBound": false}},
       "y": {"field": "n", "type": "quantitative", "stack": null, "scale": {"domain": [0, 120], "range": [224, 19], "nice": false}, "axis": {"title": null, "orient": "left", "offset": -19, "values": [0,24,48,72,96,120], "labelExpr": "datum.value == 0 || datum.value == 120 ? datum.label : ''", "labelAngle": 90, "tickSize": 4, "labelPadding": 1, "labelFontSize": 11, "labelOverlap": false, "labelFlush": false}}
     }},
    {"data": {"name": "gates"}, "transform": [{"filter": "datum.p == 'I'"}], "layer": [
      {"mark": {"type": "rule", "color": "#000", "strokeWidth": 1}, "encoding": {"x": {"field": "lo", "type": "quantitative", "title": null}, "x2": {"field": "hi"}, "y": {"field": "y", "type": "quantitative", "title": null}}},
      {"mark": {"type": "tick", "orient": "vertical", "size": 7, "thickness": 1, "color": "#000"}, "encoding": {"x": {"field": "lo", "type": "quantitative", "title": null}, "y": {"field": "y", "type": "quantitative", "title": null}}},
      {"mark": {"type": "tick", "orient": "vertical", "size": 7, "thickness": 1, "color": "#000"}, "encoding": {"x": {"field": "hi", "type": "quantitative", "title": null}, "y": {"field": "y", "type": "quantitative", "title": null}}},
      {"mark": {"type": "text", "align": "right", "baseline": "bottom", "dx": 4, "dy": -1, "fontSize": 13, "color": "#000"}, "encoding": {"x": {"field": "hi", "type": "quantitative", "title": null}, "y": {"field": "y", "type": "quantitative", "title": null}, "text": {"field": "g"}}}
    ]},
    {"data": {"name": "pct"}, "transform": [{"filter": "datum.p == 'I'"}], "mark": {"type": "text", "fontSize": 18, "color": "#000"}, "encoding": {"x": {"field": "x", "type": "quantitative", "title": null}, "y": {"field": "y", "type": "quantitative", "title": null}, "text": {"field": "t"}}}
  ]}
]
}
